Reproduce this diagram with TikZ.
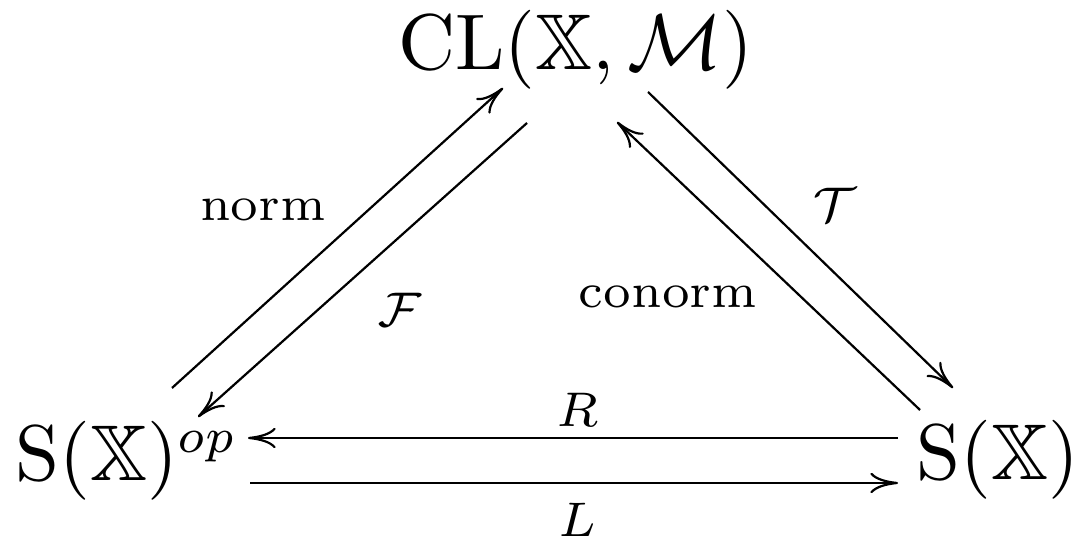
\documentclass[tikz,border=0pt]{standalone}
\usepackage{amssymb}
\usetikzlibrary{arrows.meta}
\begin{document}
\begin{tikzpicture}[x=0.1266pt,y=-0.1266pt,
  obj/.style={inner sep=0pt,anchor=base west},
  lbl/.style={inner sep=0pt,font=\scriptsize},
  arr/.style={line width=0.28pt,-{Computer Modern Rightarrow[length=3.5pt,width=2.6pt]}}]
\useasboundingbox (0,0) rectangle (1079,544);
\node[obj] (cl) at (397,70) {$\mathrm{CL}(\mathbb{X},\mathcal{M})$};
\node[obj] (sl) at (14,481) {$\mathrm{S}(\mathbb{X})^{\scalebox{0.88}{$\scriptstyle op$}}$};
\node[obj] (sr) at (915,480) {$\mathrm{S}(\mathbb{X})$};
\draw[arr] ([shift={(158,-93)}]sl.base west) -- ([shift={(106,18)}]cl.base west);
\draw[arr] ([shift={(130,53)}]cl.base west) -- ([shift={(184,-64)}]sl.base west);
\draw[arr] ([shift={(251,22)}]cl.base west) -- ([shift={(38,-92)}]sr.base west);
\draw[arr] ([shift={(5,-70)}]sr.base west) -- ([shift={(220,52)}]cl.base west);
\draw[arr] ([shift={(-17,-42)}]sr.base west) -- ([shift={(234,-43)}]sl.base west);
\draw[arr] ([shift={(236,2)}]sl.base west) -- ([shift={(-17,3)}]sr.base west);
\node[lbl] (ln) at (263,210) {\scalebox{0.88}{norm}};
\node[lbl] (lf) at (400,310) {\scalebox{0.88}{$\mathcal{F}$}};
\node[lbl] (lt) at (835,205) {\scalebox{0.88}{$\mathcal{T}$}};
\node[lbl] (lc) at (668,297) {\scalebox{0.88}{conorm}};
\node[lbl] (lr) at (578,410) {\scalebox{0.88}{$R$}};
\node[lbl] (ll) at (578,520) {\scalebox{0.88}{$L$}};
\end{tikzpicture}
\end{document}
